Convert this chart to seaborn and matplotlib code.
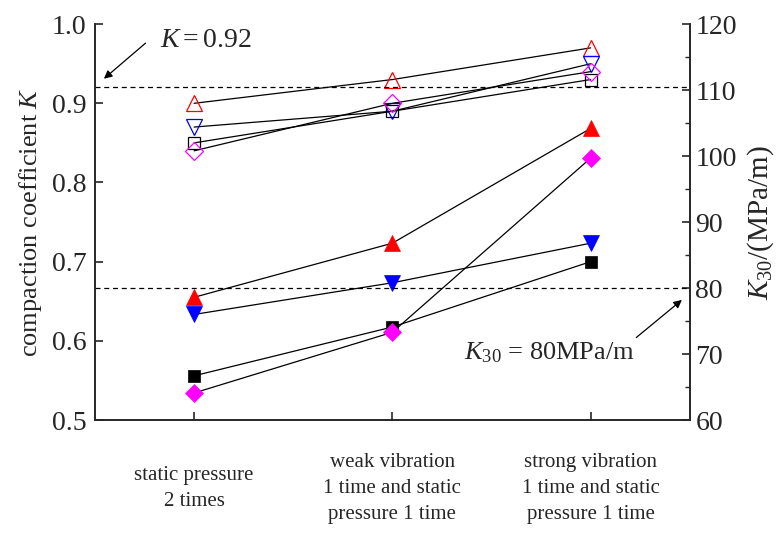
import numpy as np
import pandas as pd
import matplotlib.pyplot as plt
import seaborn as sns
from matplotlib.ticker import MultipleLocator

sns.set_style("ticks")
plt.rcParams['font.family'] = ['Liberation Serif', 'DejaVu Serif']
plt.rcParams['mathtext.fontset'] = 'custom'
plt.rcParams['mathtext.rm'] = 'Liberation Serif'
plt.rcParams['mathtext.it'] = 'Liberation Serif:italic'

categories = ["static pressure\n2 times",
              "weak vibration\n1 time and static\npressure 1 time",
              "strong vibration\n1 time and static\npressure 1 time"]

# compaction coefficient K (open markers, left axis)
k_red = [0.90, 0.93, 0.97]
k_blue = [0.87, 0.89, 0.95]
k_black = [0.85, 0.89, 0.93]
k_magenta = [0.84, 0.90, 0.94]

# K30 in MPa/m (filled markers, right axis)
k30_red = [78.6, 86.8, 104.2]
k30_blue = [76.0, 80.8, 86.8]
k30_black = [66.7, 74.1, 84.0]
k30_magenta = [64.1, 73.3, 99.7]

x = np.arange(len(categories))

fig = plt.figure(figsize=(7.83, 5.36), dpi=100)
ax = fig.add_axes([0.1213, 0.2164, 0.7597, 0.7386])
ax2 = ax.twinx()

open_series = [(k_red, '^', 'red'), (k_blue, 'v', 'blue'),
               (k_black, 's', 'black'), (k_magenta, 'D', 'magenta')]
filled_series = [(k30_red, '^', 'red'), (k30_blue, 'v', 'blue'),
                 (k30_black, 's', 'black'), (k30_magenta, 'D', 'magenta')]

sizes = {'^': 11, 'v': 11, 's': 8, 'D': 9}

for vals, m, c in open_series:
    sns.lineplot(x=x, y=vals, ax=ax, color='black', lw=0.9, marker=m,
                 markersize=sizes[m], markerfacecolor='none',
                 markeredgecolor=c, markeredgewidth=0.9)

for vals, m, c in filled_series:
    sns.lineplot(x=x, y=vals, ax=ax2, color='black', lw=0.9, marker=m,
                 markersize=sizes[m], markerfacecolor=c,
                 markeredgecolor=c, markeredgewidth=0.5)

# reference lines
ax.axhline(0.92, color='black', ls=(0, (4, 3)), lw=0.9)
ax2.axhline(80, color='black', ls=(0, (4, 3)), lw=0.9)

ax.set_xlim(-0.5, 2.5)
ax.set_ylim(0.5, 1.0)
ax2.set_ylim(60, 120)
ax.yaxis.set_major_locator(MultipleLocator(0.1))
ax2.yaxis.set_major_locator(MultipleLocator(10))
ax2.yaxis.set_minor_locator(MultipleLocator(5))
ax.set_xticks(x)
ax.set_xticklabels(categories, fontsize=15, linespacing=1.5)
for lab in ax.get_xticklabels():
    lab.set_va('center')

for a in (ax, ax2):
    a.spines['top'].set_visible(False)
    for s in a.spines.values():
        s.set_linewidth(1.2)
ax.tick_params(axis='y', direction='in', length=6, width=1.2, labelsize=20, pad=6)
ax.tick_params(axis='x', direction='in', length=6, width=1.2, pad=49)
ax2.tick_params(axis='y', which='major', direction='in', length=6, width=1.2, labelsize=20, pad=4)
ax2.tick_params(axis='y', which='minor', direction='in', length=3.5, width=1.0)

ax.set_ylabel('compaction coefficient $K$', fontsize=19, labelpad=6)
ax2.set_ylabel('$K_{30}$/(MPa/m)', fontsize=21, labelpad=6)

ax.annotate('', xy=(-0.455, 0.931), xytext=(-0.245, 0.976),
            arrowprops=dict(arrowstyle='-|>', color='black', lw=0.9,
                            mutation_scale=12, shrinkA=0, shrinkB=0))
ax.text(-0.17, 0.979, '$K = 0.92$', fontsize=20, ha='left', va='center')
ax2.annotate('', xy=(2.46, 78.2), xytext=(2.23, 72.5),
             arrowprops=dict(arrowstyle='-|>', color='black', lw=0.9,
                             mutation_scale=12, shrinkA=0, shrinkB=0))
ax2.text(1.79, 70.2, '$K_{30}$ = 80MPa/m', fontsize=19, ha='center', va='center')

fig.savefig('out.png', dpi=100)
